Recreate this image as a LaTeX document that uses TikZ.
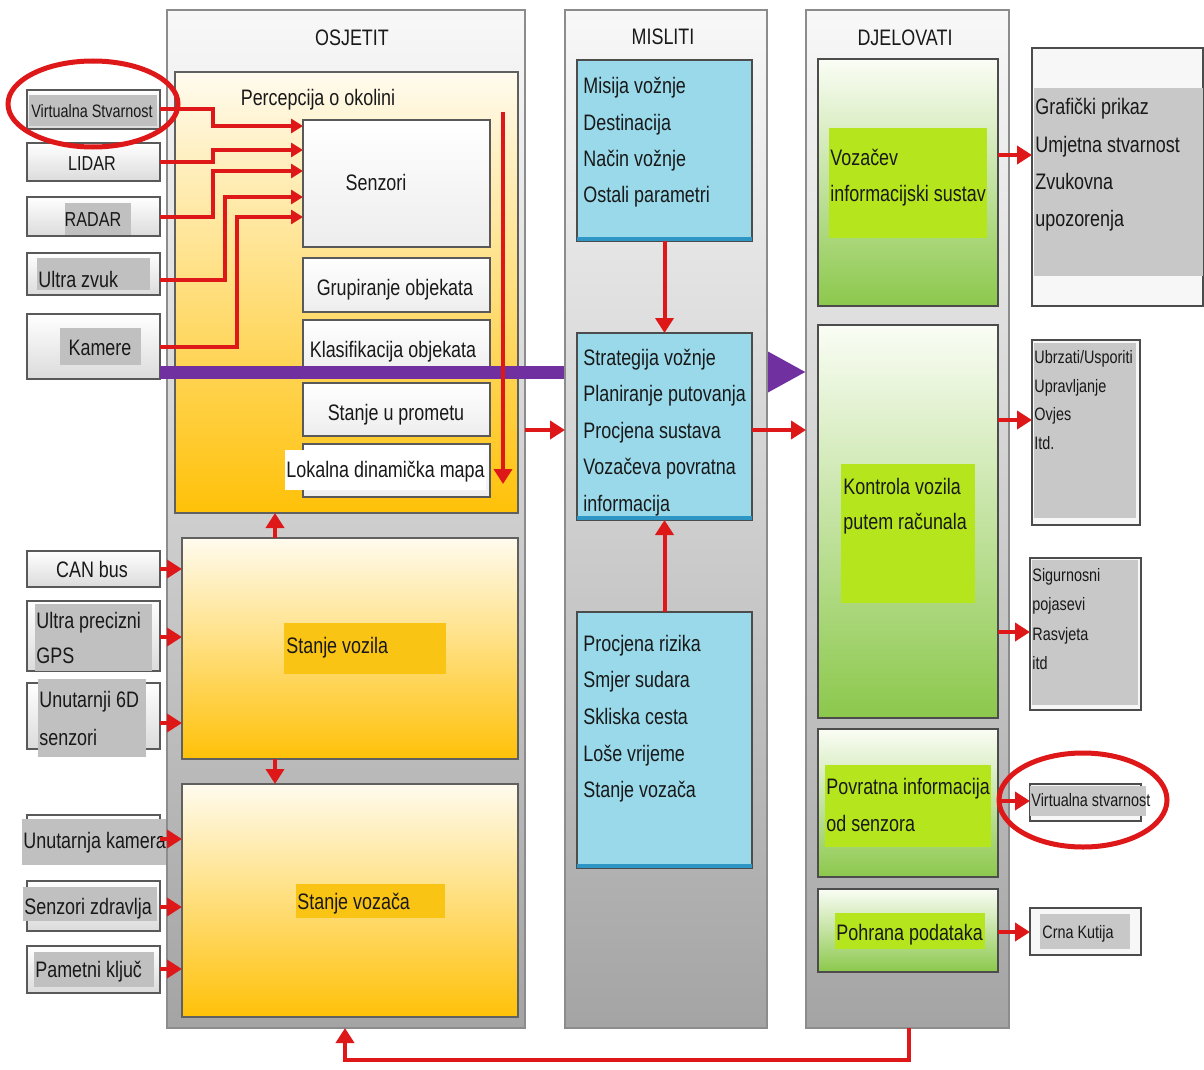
\documentclass[tikz,border=0pt]{standalone}
\usepackage{fontspec}
\setmainfont{Liberation Sans}[FakeStretch=0.8]
\usetikzlibrary{arrows.meta,shapes.geometric}
\definecolor{ared}{RGB}{222,24,24}
\definecolor{purp}{RGB}{112,48,160}
\definecolor{colbd}{RGB}{140,140,140}
\definecolor{coltop}{RGB}{248,248,248}
\definecolor{colbot}{RGB}{164,164,164}
\definecolor{yeltop}{RGB}{255,251,238}
\definecolor{yelbot}{RGB}{255,193,8}
\definecolor{blu}{RGB}{153,217,234}
\definecolor{bluedge}{RGB}{46,150,196}
\definecolor{grtop}{RGB}{250,253,245}
\definecolor{grmid}{RGB}{214,238,190}
\definecolor{grbot}{RGB}{140,200,76}
\definecolor{lime}{RGB}{181,230,29}
\definecolor{tgray}{RGB}{192,192,192}
\definecolor{ogray}{RGB}{200,200,200}
\definecolor{obg}{RGB}{250,196,20}
\definecolor{txt}{RGB}{25,25,25}
\newcommand\mkbox[6]{\node[inner sep=0pt, outer sep=0pt, minimum width={(#4-#2)*0.5pt}, minimum height={(#5-#3)*0.5pt}, #6] (#1) at ({(#2+#4)/2},{(#3+#5)/2}) {};}
\begin{document}
\begin{tikzpicture}[x=0.5pt,y=-0.5pt,
  lbl/.style={font=\fontsize{11.2}{13}\selectfont, text=txt, inner sep=0pt, text height=8pt, text depth=0pt},
  mlbl/.style={font=\fontsize{10.1}{12}\selectfont, text=txt, inner sep=0pt, text height=7.2pt, text depth=0pt},
  slbl/.style={font=\fontsize{9}{11}\selectfont, text=txt, inner sep=0pt, text height=6.45pt, text depth=0pt},
  col/.style={draw=colbd, line width=0.8pt, top color=coltop, bottom color=colbot},
  ybox/.style={draw=gray!75!black, line width=0.6pt, top color=yeltop, bottom color=yelbot},
  wbox/.style={draw=gray!70!black, line width=0.6pt, top color=white, bottom color=gray!14},
  ibox/.style={draw=gray!70!black, line width=0.6pt, top color=white, bottom color=gray!28},
  bbox/.style={draw=gray!60!black, line width=0.6pt, fill=blu},
  gbox/.style={draw=gray!60!black, line width=0.6pt, top color=grtop, middle color=grmid, bottom color=grbot},
  obox/.style={draw=gray!60!black, line width=0.6pt, fill=gray!6},
  rarr/.style={draw=ared, line width=2pt, -{Triangle[length=7.5pt,width=9pt]}},
  sarr/.style={draw=ared, line width=2pt, -{Triangle[length=6pt,width=7pt]}},
  ring/.style={ellipse, draw=ared, line width=2.5pt, inner sep=0pt}
]
\path[use as bounding box, fill=white] (0,0) rectangle (1204,1070);

% ---------- OSJETIT column ----------
\mkbox{colO}{167}{10}{525}{1028}{col}
\node[lbl] (tO) at (352,38) {OSJETIT};
\mkbox{perc}{175}{72}{518}{513}{ybox}
\node[lbl] (percT) at (318,97) {Percepcija o okolini};
\mkbox{senz}{303}{120}{490}{247}{wbox}
\node[lbl] (senzT) at (376,183) {Senzori};
\mkbox{grup}{303}{258}{490}{312}{wbox}
\node[lbl] (grupT) at (395,287) {Grupiranje objekata};
\mkbox{klas}{303}{320}{490}{373}{wbox}
\node[lbl] (klasT) at (393,349) {Klasifikacija objekata};
\mkbox{stp}{303}{383}{490}{436}{wbox}
\node[lbl] (stpT) at (396,412) {Stanje u prometu};
\mkbox{lok}{303}{444}{490}{497}{wbox}
\mkbox{lokbg}{285}{450}{486}{490}{fill=white}
\node[lbl,anchor=west] (lokT) at (286,469) {Lokalna dinamička mapa};

\mkbox{svoz}{182}{538}{518}{759}{ybox}
\mkbox{svozbg}{284}{623}{446}{674}{fill=obg}
\node[lbl,anchor=west] (svozT) at (286,645) {Stanje vozila};
\mkbox{svzc}{182}{784}{518}{1017}{ybox}
\mkbox{svzcbg}{296}{884}{445}{918}{fill=obg}
\node[lbl,anchor=west] (svzcT) at (297,901) {Stanje vozača};

% ---------- inputs ----------
\mkbox{vr}{27}{90}{160}{129}{ibox}
\mkbox{vrbg}{29}{95}{157}{126}{fill=tgray}
\node[slbl] (vrT) at (92,111) {Virtualna Stvarnost};
\mkbox{lid}{27}{143}{160}{181}{ibox}
\node[mlbl] (lidT) at (92,163) {LIDAR};
\mkbox{rad}{27}{197}{160}{236}{ibox}
\mkbox{radbg}{65}{203}{131}{235}{fill=tgray}
\node[mlbl] (radT) at (93,219) {RADAR};
\mkbox{uz}{27}{253}{160}{295}{ibox}
\mkbox{uzbg}{37}{258}{150}{290}{fill=tgray}
\node[lbl,anchor=west] (uzT) at (38,279) {Ultra zvuk};
\mkbox{kam}{27}{314}{160}{379}{ibox}
\mkbox{kambg}{60}{328}{141}{365}{fill=tgray}
\node[lbl] (kamT) at (100,347) {Kamere};

\mkbox{can}{27}{551}{160}{587}{ibox}
\node[lbl] (canT) at (92,569) {CAN bus};
\mkbox{gps}{27}{601}{160}{671}{ibox}
\mkbox{gpsbg}{35}{604}{152}{671}{fill=tgray}
\node[lbl,anchor=west] (gpsT1) at (36,620) {Ultra precizni};
\node[lbl,anchor=west] (gpsT2) at (36,655) {GPS};
\mkbox{sixd}{27}{683}{160}{749}{ibox}
\mkbox{sixdbg}{38}{679}{146}{757}{fill=tgray}
\node[lbl,anchor=west] (sixdT1) at (39,699) {Unutarnji 6D};
\node[lbl,anchor=west] (sixdT2) at (39,737) {senzori};
\mkbox{ukam}{27}{815}{160}{862}{ibox}
\mkbox{ukambg}{22}{819}{166}{865}{fill=tgray}
\node[lbl,anchor=west] (ukamT) at (23,840) {Unutarnja kamera};
\mkbox{zdr}{27}{881}{160}{931}{ibox}
\mkbox{zdrbg}{23}{887}{157}{921}{fill=tgray}
\node[lbl,anchor=west] (zdrT) at (24,906) {Senzori zdravlja};
\mkbox{kljuc}{27}{946}{160}{993}{ibox}
\mkbox{kljucbg}{34}{952}{154}{987}{fill=tgray}
\node[lbl,anchor=west] (kljucT) at (35,969) {Pametni ključ};

% input arrows into Senzori
\draw[sarr] (vr.east) -- (213,109.5) |- (senz.west |- 0,126);
\draw[sarr] (lid.east) -- (213,162) |- (senz.west |- 0,150);
\draw[sarr] (rad.east) -- (213,216.5) |- (senz.west |- 0,171);
\draw[sarr] (uz.east |- 0,280) -- (225,280) |- (senz.west |- 0,197);
\draw[sarr] (kam.east |- 0,347) -- (237,347) |- (senz.west |- 0,217);

% purple arrow (drawn before MISLITI column)
\coordinate (pend) at (806,372);
\draw[purp, line width=6.5pt, -{Triangle[length=19pt,width=19pt]}] (kam.east |- 0,372) -- (pend);

\coordinate (pv1) at (503,112);
\coordinate (pv2) at (503,484);
\draw[rarr] (pv1) -- (pv2);

\draw[rarr] (svoz.north -| 275,0) -- (perc.south -| 275,0);
\draw[rarr] (svoz.south -| 275,0) -- (svzc.north -| 275,0);

\draw[rarr] (can.east) -- (svoz.west |- can.east);
\draw[rarr] (gps.east |- 0,637) -- (svoz.west |- 0,637);
\draw[rarr] (sixd.east |- 0,723) -- (svoz.west |- 0,723);
\draw[rarr] (ukam.east |- 0,839) -- (svzc.west |- 0,839);
\draw[rarr] (zdr.east |- 0,907) -- (svzc.west |- 0,907);
\draw[rarr] (kljuc.east |- 0,969) -- (svzc.west |- 0,969);

\node[ring, minimum width=85pt, minimum height=43pt] (vrE) at (93,104) {};

% ---------- MISLITI column ----------
\mkbox{colM}{565}{10}{767}{1028}{col}
\node[lbl] (tM) at (663,37) {MISLITI};
\mkbox{mis}{577}{60}{752}{241}{bbox}
\fill[bluedge] ([yshift=2pt]mis.south west) rectangle (mis.south east);
\foreach \t [count=\i] in {Misija vožnje,Destinacija,Način vožnje,Ostali parametri}
  \node[lbl,anchor=west] (misT\i) at (583,{86+36.3*(\i-1)}) {\t};
\mkbox{strat}{577}{333}{752}{520}{bbox}
\fill[bluedge] ([yshift=2pt]strat.south west) rectangle (strat.south east);
\foreach \t [count=\i] in {Strategija vožnje,Planiranje putovanja,Procjena sustava,Vozačeva povratna,informacija}
  \node[lbl,anchor=west] (stratT\i) at (583,{357+36.5*(\i-1)}) {\t};
\mkbox{rizik}{577}{612}{752}{868}{bbox}
\fill[bluedge] ([yshift=2pt]rizik.south west) rectangle (rizik.south east);
\foreach \t [count=\i] in {Procjena rizika,Smjer sudara,Skliska cesta,Loše vrijeme,Stanje vozača}
  \node[lbl,anchor=west] (rizT\i) at (583,{643+36.7*(\i-1)}) {\t};

\draw[rarr] (mis.south) -- (strat.north);
\draw[rarr] (rizik.north) -- (strat.south);
\draw[rarr] (colO.east |- 0,430) -- (colM.west |- 0,430);

% ---------- DJELOVATI column ----------
\mkbox{colD}{806}{10}{1009}{1028}{col}
\node[lbl] (tD) at (905,38) {DJELOVATI};
\draw[rarr] (strat.east |- 0,430) -- (colD.west |- 0,430);

\mkbox{vis}{818}{59}{998}{306}{gbox}
\mkbox{visbg}{829}{128}{987}{238}{fill=lime}
\node[lbl,anchor=west] (visT1) at (830,157) {Vozačev};
\node[lbl,anchor=west] (visT2) at (830,193) {informacijski sustav};
\mkbox{kon}{818}{325}{998}{718}{gbox}
\mkbox{konbg}{841}{464}{975}{603}{fill=lime}
\node[lbl,anchor=west] (konT1) at (843,486) {Kontrola vozila};
\node[lbl,anchor=west] (konT2) at (843,521) {putem računala};
\mkbox{pov}{818}{729}{998}{877}{gbox}
\mkbox{povbg}{825}{765}{991}{847}{fill=lime}
\node[lbl,anchor=west] (povT1) at (826,786) {Povratna informacija};
\node[lbl,anchor=west] (povT2) at (826,823) {od senzora};
\mkbox{poh}{818}{889}{998}{972}{gbox}
\mkbox{pohbg}{835}{913}{985}{949}{fill=lime}
\node[lbl,anchor=west] (pohT) at (836,932) {Pohrana podataka};

% ---------- outputs ----------
\mkbox{graf}{1032}{48}{1203}{306}{obox}
\mkbox{grafbg}{1034}{88}{1203}{276}{fill=ogray}
\foreach \t [count=\i] in {Grafički prikaz,Umjetna stvarnost,Zvukovna,upozorenja}
  \node[lbl,anchor=west] (grafT\i) at (1035,{107+37*(\i-1)}) {\t};
\mkbox{ubr}{1032}{340}{1140}{525}{obox}
\mkbox{ubrbg}{1034}{343}{1136}{518}{fill=ogray}
\foreach \t [count=\i] in {Ubrzati/Usporiti,Upravljanje,Ovjes,Itd.}
  \node[slbl,anchor=west] (ubrT\i) at (1034,{357+28.7*(\i-1)}) {\t};
\mkbox{sig}{1030}{558}{1141}{710}{obox}
\mkbox{sigbg}{1032}{560}{1138}{705}{fill=ogray}
\foreach \t [count=\i] in {Sigurnosni,pojasevi,Rasvjeta,itd}
  \node[slbl,anchor=west] (sigT\i) at (1032,{575+29.3*(\i-1)}) {\t};
\mkbox{vsr}{1030}{784}{1141}{821}{obox}
\mkbox{vsrbg}{1030}{786}{1146}{816}{fill=ogray}
\node[slbl,anchor=west] (vsrT) at (1031,800) {Virtualna stvarnost};
\mkbox{crna}{1030}{908}{1141}{955}{obox}
\mkbox{crnabg}{1040}{914}{1130}{949}{fill=ogray}
\node[slbl,anchor=west] (crnaT) at (1042,932) {Crna Kutija};

\draw[rarr] (vis.east |- 0,155) -- (graf.west |- 0,155);
\draw[rarr] (kon.east |- 0,420) -- (ubr.west |- 0,420);
\draw[rarr] (kon.east |- 0,632) -- (sig.west |- 0,632);
\draw[rarr] (pov.east |- 0,801) -- (vsr.west |- 0,801);
\draw[rarr] (poh.east |- 0,932) -- (crna.west |- 0,932);

\node[ring, minimum width=84pt, minimum height=47pt] (vsE) at (1083,800) {};

% feedback loop
\coordinate (fb1) at (909,1060);
\coordinate (fb2) at (345,1060);
\draw[rarr] (colD.south -| fb1) -- (fb1) -- (fb2) -- (colO.south -| fb2);
\end{tikzpicture}
\end{document}
